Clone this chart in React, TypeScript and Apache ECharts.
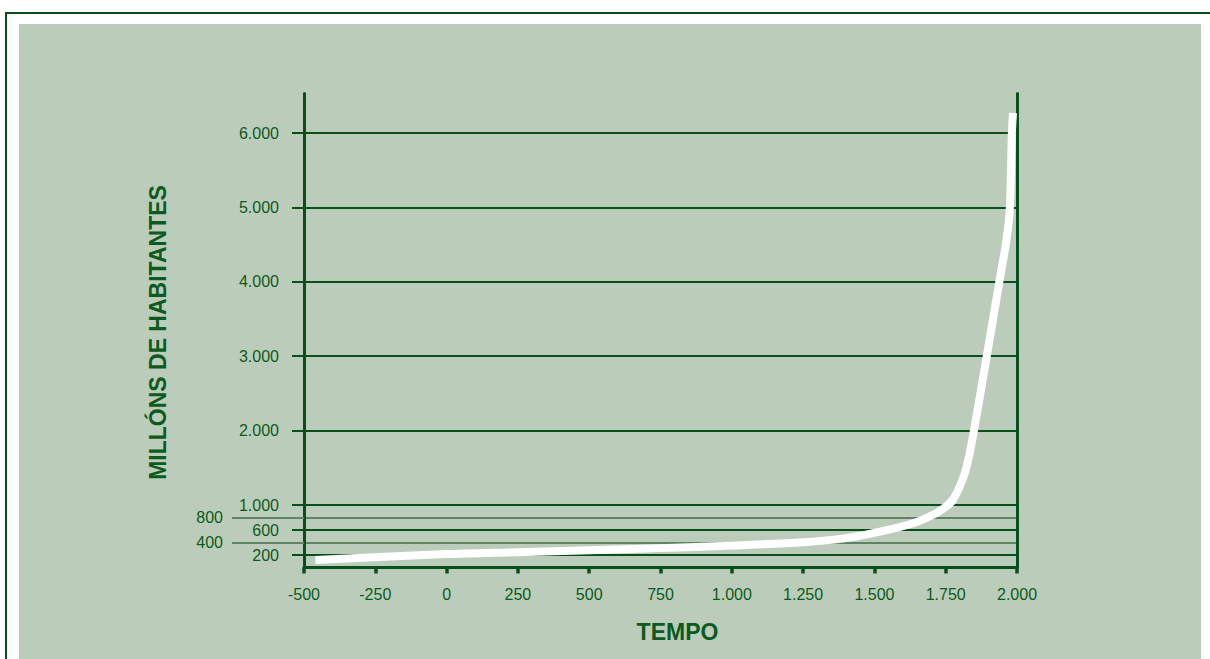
import { useEffect, useRef } from "react";
import * as echarts from "echarts";

// Data
const years = [-460, 0, 250, 500, 750, 1000, 1250, 1400, 1520, 1636, 1715, 1744, 1765, 1783, 1800, 1818, 1833, 1849, 1894, 1938, 1963, 1975, 1982, 1986];
const population = [120, 215, 245, 275, 310, 350, 405, 470, 573, 707, 864, 952, 1027, 1121, 1255, 1443, 1672, 2000, 3000, 4000, 4560, 5000, 6000, 6270];

const lowerTickLabels = [200, 600, 1000];
const sideTickLabels = [400, 800];
const upperTickLabels = [2000, 3000, 4000, 5000, 6000];

const xMin = -500;
const xMax = 2000;
const xStep = 250;

const DARK = "#07501b";
const LIGHT = "#5f8465";
const TEXT = "#0b5a20";
const FONT = '"Liberation Sans", Arial, Helvetica, sans-serif';

const fmt = (v: number) => String(v).replace(/\B(?=(\d{3})+(?!\d))/g, ".");

export default function App() {
  const ref = useRef<HTMLDivElement>(null);

  useEffect(() => {
    if (!ref.current) return;
    const chart = echarts.init(ref.current, undefined, { renderer: "svg" });
    const pts = years.map((y, i) => [y, population[i]]);

    const labelStyle = { color: TEXT, fontSize: 16, fontFamily: FONT };
    const line = (width: number) => ({ show: true, onZero: false, lineStyle: { color: DARK, width } });
    const noLine = { show: false, onZero: false };

    chart.setOption({
      animation: false,
      backgroundColor: "transparent",
      grid: [
        { left: 304, right: 193, top: 505, height: 62.5 },
        { left: 304, right: 193, top: 93.5, height: 411.5 },
      ],
      xAxis: [
        {
          type: "value",
          gridIndex: 0,
          min: xMin,
          max: xMax,
          interval: xStep,
          position: "bottom",
          axisLine: line(3),
          axisTick: { show: true, length: 6, lineStyle: { color: DARK, width: 3.5 } },
          axisLabel: { ...labelStyle, margin: 19, formatter: (v: number) => fmt(v) },
          splitLine: { show: false },
        },
        {
          type: "value",
          gridIndex: 1,
          min: xMin,
          max: xMax,
          show: false,
          axisLine: noLine,
          splitLine: { show: false },
        },
      ],
      yAxis: [
        // 0: lower main axis
        {
          type: "value",
          gridIndex: 0,
          position: "left",
          min: 0,
          max: 1000,
          interval: 200,
          axisLine: line(3),
          axisTick: { show: true, customValues: lowerTickLabels, length: 12, lineStyle: { color: DARK, width: 2 } },
          axisLabel: { ...labelStyle, customValues: lowerTickLabels, margin: 25, formatter: (v: number) => fmt(v) },
          splitLine: { show: false },
        },
        // 1: lower side labels 400 / 800
        {
          type: "value",
          gridIndex: 0,
          position: "left",
          min: 0,
          max: 1000,
          interval: 200,
          axisLine: noLine,
          axisTick: { show: true, customValues: sideTickLabels, length: 72, lineStyle: { color: LIGHT, width: 2 } },
          axisLabel: { ...labelStyle, customValues: sideTickLabels, margin: 81, formatter: (v: number) => fmt(v) },
          splitLine: { show: false },
        },
        // 2: lower split lines
        {
          type: "value",
          gridIndex: 0,
          position: "left",
          min: 0,
          max: 1000,
          interval: 200,
          axisLine: noLine,
          axisTick: { show: false },
          axisLabel: { show: false },
          splitLine: { show: true, lineStyle: { color: [DARK, DARK, LIGHT, DARK, LIGHT, DARK], width: 2 } },
        },
        // 3: lower right border
        {
          type: "value",
          gridIndex: 0,
          position: "right",
          min: 0,
          max: 1000,
          axisLine: line(3),
          axisTick: { show: false },
          axisLabel: { show: false },
          splitLine: { show: false },
        },
        // 4: upper main axis
        {
          type: "value",
          gridIndex: 1,
          position: "left",
          min: 1000,
          max: 6532,
          interval: 1000,
          axisLine: line(3),
          axisTick: { show: true, customValues: upperTickLabels, length: 12, lineStyle: { color: DARK, width: 2 } },
          axisLabel: { ...labelStyle, customValues: upperTickLabels, margin: 25, formatter: (v: number) => fmt(v) },
          splitLine: { show: false },
        },
        // 5: upper split lines
        {
          type: "value",
          gridIndex: 1,
          position: "left",
          min: 1000,
          max: 6532,
          interval: 1000,
          axisLine: noLine,
          axisTick: { show: false },
          axisLabel: { show: false },
          splitLine: { show: true, showMinLine: false, showMaxLine: false, lineStyle: { color: DARK, width: 2 } },
        },
        // 6: upper right border
        {
          type: "value",
          gridIndex: 1,
          position: "right",
          min: 1000,
          max: 6532,
          axisLine: line(3),
          axisTick: { show: false },
          axisLabel: { show: false },
          splitLine: { show: false },
        },
      ],
      graphic: [
        {
          type: "text",
          x: 677.5,
          y: 632,
          style: {
            text: "TEMPO",
            fill: TEXT,
            font: `bold 23px ${FONT}`,
            textAlign: "center",
            textVerticalAlign: "middle",
          },
        },
        {
          type: "text",
          x: 157.5,
          y: 332.5,
          rotation: Math.PI / 2,
          style: {
            text: "MILLÓNS DE HABITANTES",
            fill: TEXT,
            font: `bold 23px ${FONT}`,
            textAlign: "center",
            textVerticalAlign: "middle",
          },
        },
      ],
      series: [
        {
          type: "line",
          xAxisIndex: 0,
          yAxisIndex: 0,
          data: pts,
          showSymbol: false,
          smooth: 0.3,
          clip: true,
          lineStyle: { color: "#ffffff", width: 8, join: "round" },
        },
        {
          type: "line",
          xAxisIndex: 1,
          yAxisIndex: 4,
          data: pts,
          showSymbol: false,
          smooth: 0.3,
          clip: true,
          lineStyle: { color: "#ffffff", width: 8, join: "round" },
        },
      ],
    });
    return () => chart.dispose();
  }, []);

  return (
    <div style={{ position: "fixed", left: 0, top: 0, width: 1210, height: 659, overflow: "hidden", background: "#ffffff" }}>
      <div
        style={{
          position: "absolute",
          left: 5,
          top: 11.5,
          width: 1400,
          height: 1000,
          borderLeft: `2px solid ${DARK}`,
          borderTop: `2px solid ${DARK}`,
          boxSizing: "border-box",
        }}
      />
      <div style={{ position: "absolute", left: 19, top: 24, width: 1182, height: 700, background: "#bbcdba" }} />
      <div ref={ref} style={{ position: "absolute", left: 0, top: 0, width: 1210, height: 659 }} />
    </div>
  );
}
